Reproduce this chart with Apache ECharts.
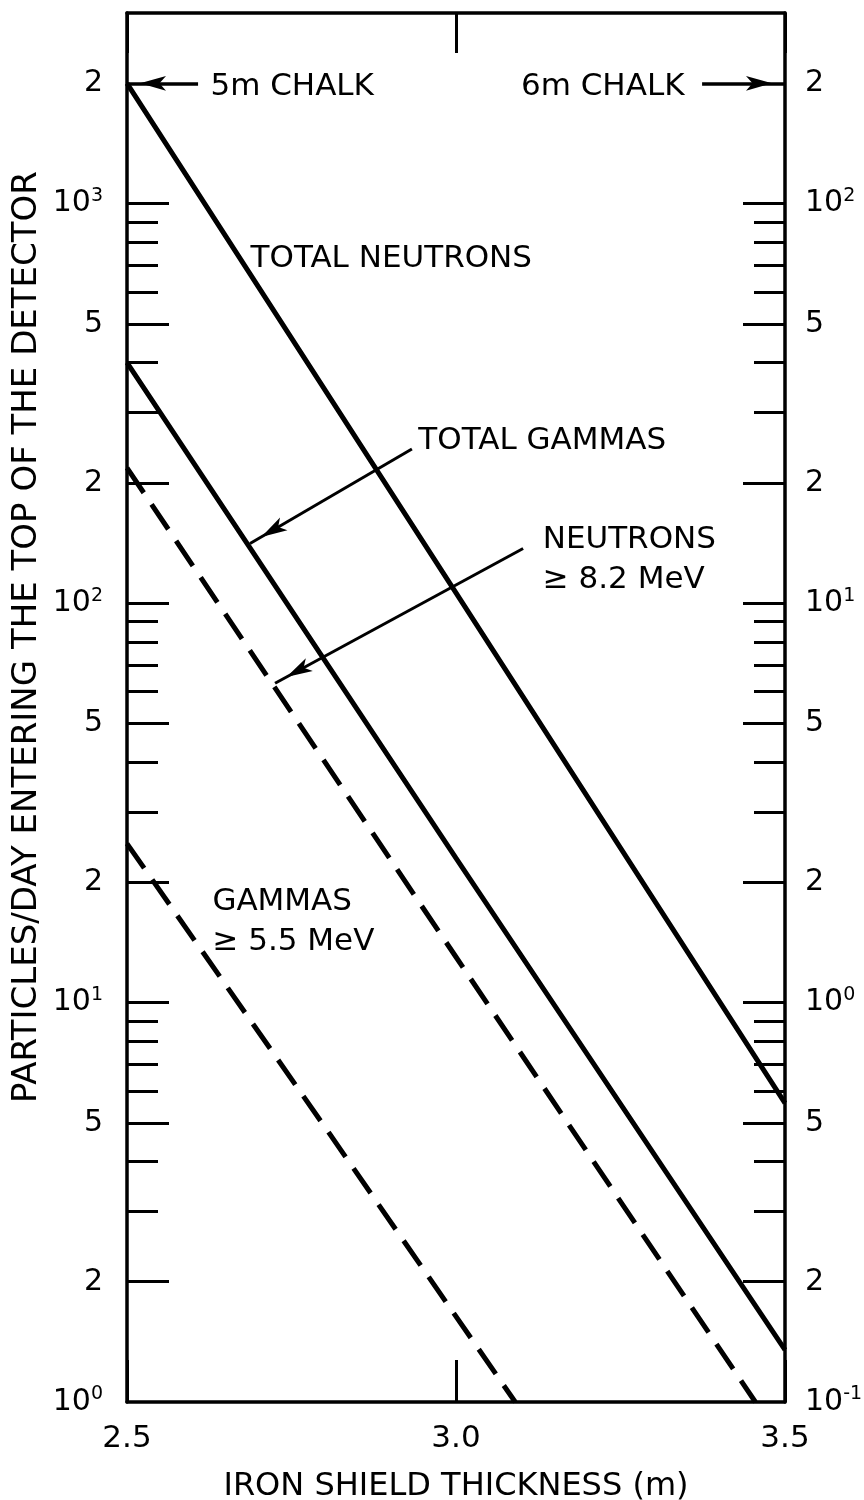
<!DOCTYPE html>
<html>
<head>
<meta charset="utf-8">
<script src="https://cdn.jsdelivr.net/npm/echarts@6/dist/echarts.min.js"></script>
<style>
html,body{margin:0;padding:0;background:#fff;}
#chart{width:864px;height:1500px;}
</style>
</head>
<body>
<div id="chart"></div>
<script>
// ---- data ----
const xTicks = [2.5, 3.0, 3.5];

const totalNeutronsX = [2.5, 3.0, 3.5];
const totalNeutronsY = [2000, 106, 5.6];

const totalGammasX = [2.5, 3.0, 3.5];
const totalGammasY = [400, 23, 1.35];

const neutrons82X = [2.5, 3.0, 3.455];
const neutrons82Y = [218, 13, 1];

const gammas55X = [2.5, 2.8, 3.09];
const gammas55Y = [25, 4.9, 1];

const yMajorTicks = [2, 5, 10, 20, 50, 100, 200, 500, 1000];
const yMinorTicks = [3, 4, 6, 7, 8, 9, 30, 40, 60, 70, 80, 90, 300, 400, 600, 700, 800, 900];
const yLabelValues = [1, 2, 5, 10, 20, 50, 100, 200, 500, 1000, 2000];
const yLeftLabels = ['10^0', '2', '5', '10^1', '2', '5', '10^2', '2', '5', '10^3', '2'];
const yRightLabels = ['10^-1', '2', '5', '10^0', '2', '5', '10^1', '2', '5', '10^2', '2'];

const Y_MIN = 1, Y_MAX = 3000;

// ---- chart ----
const FONT = 'DejaVu Sans';
const BLACK = '#000';
const LMAX = Math.log10(Y_MAX);
const zip = (xs, ys) => xs.map((x, i) => [x, ys[i]]);
const toRich = (s) => {
  const p = s.split('^');
  return p.length === 2 ? '{b|' + p[0] + '}{s|' + p[1] + '}' : '{b|' + s + '}';
};
const lbl = (texts) => (v) => {
  const i = yLabelValues.findIndex(t => Math.abs(Math.log10(t) - v) < 1e-6);
  return i >= 0 ? toRich(texts[i]) : '';
};
const labelRich = {
  b: { fontSize: 30, fontFamily: FONT, color: BLACK, lineHeight: 34 },
  s: { fontSize: 19, fontFamily: FONT, color: BLACK, lineHeight: 19, verticalAlign: 'top' }
};

const frameLine = { show: true, onZero: false, lineStyle: { color: BLACK, width: 3.5 } };
const noLine = { show: false, onZero: false };
const tickStyle = { color: BLACK, width: 3 };

function helperY(position, ticks, len, labels) {
  return {
    type: 'value', min: 0, max: LMAX, position: position,
    axisLine: noLine,
    axisTick: { show: true, inside: true, length: len, customValues: ticks.map(Math.log10), lineStyle: tickStyle },
    axisLabel: labels ? {
      show: true, customValues: yLabelValues.map(Math.log10), formatter: lbl(labels),
      margin: position === 'left' ? 24 : 20, rich: labelRich, color: BLACK
    } : { show: false },
    splitLine: { show: false }, minorTick: { show: false }
  };
}

const lineSeries = (name, xs, ys, dashed) => ({
  name: name, type: 'line', xAxisIndex: 0, yAxisIndex: 0,
  data: zip(xs, ys), showSymbol: false, symbol: 'none', silent: true, clip: true,
  lineStyle: { color: BLACK, width: 5, type: dashed ? [30, 14] : 'solid' },
  emphasis: { disabled: true }
});

const textPt = (coord, text, pos) => ({
  coord: coord, symbol: 'circle', symbolSize: 1, itemStyle: { color: 'rgba(0,0,0,0)' },
  label: { show: true, position: pos || 'right', distance: 0, formatter: text,
           fontSize: 31, fontFamily: FONT, color: BLACK, lineHeight: 40 }
});

const arrowEnd = (coord) => ({
  coord: coord, symbol: 'arrow', symbolSize: [11, 26], symbolOffset: [0, 13]
});

const chart = echarts.init(document.getElementById('chart'), null, { renderer: 'canvas' });
chart.setOption({
  animation: false,
  backgroundColor: '#fff',
  grid: { left: 127, right: 79, top: 13, bottom: 98, containLabel: false, outerBoundsMode: 'none' },
  xAxis: [
    {
      type: 'value', position: 'bottom', min: xTicks[0], max: xTicks[xTicks.length - 1],
      interval: xTicks[1] - xTicks[0],
      axisLine: frameLine,
      axisTick: { show: true, inside: true, length: 42, lineStyle: tickStyle },
      axisLabel: { show: true, margin: 21, fontSize: 31, fontFamily: FONT, color: BLACK,
                   formatter: v => v.toFixed(1) },
      splitLine: { show: false },
      name: 'IRON SHIELD THICKNESS (m)', nameLocation: 'middle', nameGap: 69,
      nameTextStyle: { fontSize: 32, fontFamily: FONT, color: BLACK }
    },
    {
      type: 'value', position: 'top', min: xTicks[0], max: xTicks[xTicks.length - 1],
      interval: xTicks[1] - xTicks[0],
      axisLine: frameLine,
      axisTick: { show: true, inside: true, length: 40, lineStyle: tickStyle },
      axisLabel: { show: false }, splitLine: { show: false }
    }
  ],
  yAxis: [
    { type: 'log', logBase: 10, min: Y_MIN, max: Y_MAX, position: 'left', axisLine: frameLine,
      axisTick: { show: false }, axisLabel: { show: false }, splitLine: { show: false }, minorTick: { show: false } },
    { type: 'log', logBase: 10, min: Y_MIN, max: Y_MAX, position: 'right', axisLine: frameLine,
      axisTick: { show: false }, axisLabel: { show: false }, splitLine: { show: false }, minorTick: { show: false } },
    helperY('left', yMajorTicks, 42, yLeftLabels),
    helperY('left', yMinorTicks, 31, null),
    helperY('right', yMajorTicks, 42, yRightLabels),
    helperY('right', yMinorTicks, 31, null)
  ],
  graphic: [{
    type: 'text', x: 27, y: 637, rotation: Math.PI / 2, silent: true,
    style: { text: 'PARTICLES/DAY ENTERING THE TOP OF THE DETECTOR', fontSize: 34, fontFamily: FONT,
             fill: BLACK, align: 'center', verticalAlign: 'middle', textAlign: 'center', textVerticalAlign: 'middle' }
  }],
  series: [
    lineSeries('TOTAL NEUTRONS', totalNeutronsX, totalNeutronsY, false),
    lineSeries('TOTAL GAMMAS', totalGammasX, totalGammasY, false),
    lineSeries('NEUTRONS ≥ 8.2 MeV', neutrons82X, neutrons82Y, true),
    lineSeries('GAMMAS ≥ 5.5 MeV', gammas55X, gammas55Y, true),
    {
      name: 'annotations', type: 'line', xAxisIndex: 0, yAxisIndex: 0, data: [], clip: false, silent: true,
      markLine: {
        silent: true, symbol: ['none', 'arrow'],
        label: { show: false }, emphasis: { disabled: true },
        lineStyle: { color: BLACK, width: 3, type: 'solid' },
        data: [
          [{ coord: [2.608, 2000], lineStyle: { width: 3.5 } }, arrowEnd([2.5, 2000])],
          [{ coord: [3.374, 2000], lineStyle: { width: 3.5 } }, arrowEnd([3.5, 2000])],
          [{ coord: [2.933, 243] }, arrowEnd([2.687, 141])],
          [{ coord: [3.102, 137] }, arrowEnd([2.725, 63])]
        ]
      },
      markPoint: {
        silent: true,
        data: [
          textPt([2.626, 1960], '5m CHALK'),
          textPt([3.348, 1960], '6m CHALK', 'left'),
          textPt([2.687, 726], 'TOTAL NEUTRONS'),
          textPt([2.942, 254], 'TOTAL GAMMAS'),
          textPt([3.131, 128], 'NEUTRONS\n≥ 8.2 MeV'),
          textPt([2.629, 15.9], 'GAMMAS\n≥ 5.5 MeV')
        ]
      }
    }
  ]
});
</script>
</body>
</html>
